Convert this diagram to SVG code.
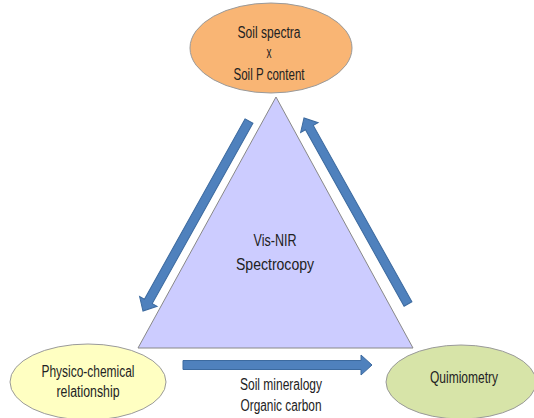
<svg xmlns="http://www.w3.org/2000/svg" width="534" height="418" viewBox="0 0 534 418">
<style>
text{font-family:"Liberation Sans","DejaVu Sans",sans-serif;font-size:16px;fill:#222;text-anchor:middle}
.arr{fill:#4F81BD;stroke:#3C6A9F;stroke-width:1}
.ell{stroke:#9a9a9a;stroke-width:1}
</style>
<rect width="534" height="418" fill="#fff"/>
<g id="triangle">
<polygon points="276,97 413,348 138,348" fill="#CCCCFF" stroke="#888" stroke-width="1"/>
<text x="275" y="246" textLength="43" lengthAdjust="spacingAndGlyphs">Vis-NIR</text>
<text x="275" y="270" textLength="78" lengthAdjust="spacingAndGlyphs">Spectrocopy</text>
</g>
<g id="connectors">
<g transform="translate(249,121) rotate(119.16)"><polygon class="arr" points="0,-4.5 206.6,-4.5 206.6,-10 217.6,0 206.6,10 206.6,4.5 0,4.5"/></g>
<g transform="translate(408,304) rotate(-119.21)"><polygon class="arr" points="0,-4.5 202.1,-4.5 202.1,-10 213.1,0 202.1,10 202.1,4.5 0,4.5"/></g>
<g transform="translate(183,365)"><polygon class="arr" points="0,-4.5 178,-4.5 178,-10 189,0 178,10 178,4.5 0,4.5"/></g>
<text x="281" y="390" textLength="82" lengthAdjust="spacingAndGlyphs">Soil mineralogy</text>
<text x="281" y="411" textLength="81" lengthAdjust="spacingAndGlyphs">Organic carbon</text>
</g>
<g id="top">
<ellipse class="ell" cx="271" cy="48" rx="81" ry="45" fill="#F9B574"/>
<text x="269" y="38" textLength="63" lengthAdjust="spacingAndGlyphs">Soil spectra</text>
<text x="269" y="58" font-size="13" textLength="5" lengthAdjust="spacingAndGlyphs">x</text>
<text x="269" y="80" textLength="71" lengthAdjust="spacingAndGlyphs">Soil P content</text>
</g>
<g id="left">
<ellipse class="ell" cx="88" cy="382" rx="78" ry="38" fill="#FFFFC2"/>
<text x="88" y="377" textLength="93" lengthAdjust="spacingAndGlyphs">Physico-chemical</text>
<text x="88" y="397" textLength="63" lengthAdjust="spacingAndGlyphs">relationship</text>
</g>
<g id="right">
<ellipse class="ell" cx="461" cy="382" rx="75" ry="37" fill="#D7E4A8"/>
<text x="464" y="383" textLength="68" lengthAdjust="spacingAndGlyphs">Quimiometry</text>
</g>
</svg>
